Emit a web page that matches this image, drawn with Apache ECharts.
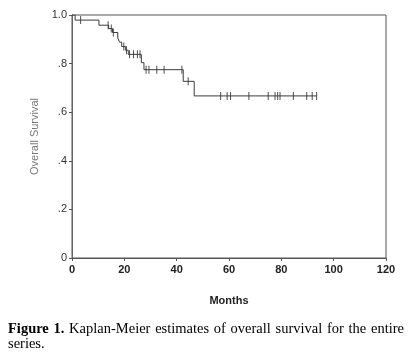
<!DOCTYPE html>
<html><head><meta charset="utf-8">
<script src="https://cdn.jsdelivr.net/npm/echarts@6/dist/echarts.min.js"></script>
<style>html,body{margin:0;padding:0;background:#fff}#c{width:409px;height:358px}</style>
</head><body><div id="c"></div>
<script>
// Kaplan-Meier step points: [months, survival]
const eventTimes = [0, 1.2, 10.3, 14.0, 15.5, 17.5, 18.2, 19.0, 20.5, 21.5, 26.5, 27.5, 42.5, 46.7, 93.5];
const survival   = [1.0, 0.979, 0.958, 0.944, 0.928, 0.905, 0.888, 0.870, 0.855, 0.838, 0.804, 0.775, 0.727, 0.667, 0.667];
// Censored observations
const censorTimes = [3.3, 13.8, 15.0, 15.8, 19.8, 20.8, 22.0, 23.5, 25.0, 26.0, 28.3, 29.4, 32.4, 35.2, 42.0, 44.4,
  56.8, 59.3, 60.6, 67.6, 75.0, 77.6, 78.6, 79.5, 84.6, 89.7, 91.8, 93.5];
const censorSurv  = [0.979, 0.958, 0.944, 0.928, 0.870, 0.855, 0.838, 0.838, 0.838, 0.838, 0.775, 0.775, 0.775, 0.775, 0.775, 0.727,
  0.667, 0.667, 0.667, 0.667, 0.667, 0.667, 0.667, 0.667, 0.667, 0.667, 0.667, 0.667];
const xTicks = [0, 20, 40, 60, 80, 100, 120];
const yLabels = {0: '0', 0.2: '.2', 0.4: '.4', 0.6: '.6', 0.8: '.8', 1: '1.0'};
const xName = 'Months';
const yName = 'Overall Survival';
const captionBold = ['Figure', '1.'];
const captionLine1 = ['Figure', '1.', 'Kaplan-Meier', 'estimates', 'of', 'overall', 'survival', 'for', 'the', 'entire'];
const captionLine2 = 'series.';

const chart = echarts.init(document.getElementById('c'), null, {renderer: 'canvas'});
const font = 'Liberation Sans, Arial, sans-serif';
const serifN = '14.5px Liberation Serif, Times New Roman, serif';
const serifB = 'bold 14.5px Liberation Serif, Times New Roman, serif';

// justified caption line 1
const ctx = document.createElement('canvas').getContext('2d');
const widths = captionLine1.map((w, i) => { ctx.font = i < captionBold.length ? serifB : serifN; return ctx.measureText(w).width; });
const lineLeft = 8, lineRight = 404;
const gap = (lineRight - lineLeft - widths.reduce((a, b) => a + b, 0)) / (captionLine1.length - 1);
const graphics = [];
let cx = lineLeft;
captionLine1.forEach((w, i) => {
  graphics.push({type: 'text', left: cx, top: 322, style: {text: w, font: i < captionBold.length ? serifB : serifN, fill: '#000'}});
  cx += widths[i] + gap;
});
graphics.push({type: 'text', left: lineLeft, top: 337, style: {text: captionLine2, font: serifN, fill: '#000'}});

chart.setOption({
  animation: false,
  backgroundColor: '#fff',
  grid: {left: 72, top: 15, right: 23, bottom: 100, show: true, borderColor: '#555', borderWidth: 1, backgroundColor: 'transparent'},
  xAxis: {
    type: 'value', min: xTicks[0], max: xTicks[xTicks.length - 1], interval: 20,
    name: xName, nameLocation: 'middle', nameGap: 37,
    nameTextStyle: {fontFamily: font, fontSize: 11, color: '#222', fontWeight: 'bold'},
    axisLine: {show: true, lineStyle: {color: '#555'}},
    axisTick: {show: true, length: 3, lineStyle: {color: '#555'}},
    axisLabel: {fontFamily: font, fontSize: 11, color: '#222', margin: 6, fontWeight: 'bold'},
    splitLine: {show: false}
  },
  yAxis: {
    type: 'value', min: 0, max: 1, interval: 0.2,
    name: yName, nameLocation: 'middle', nameGap: 30,
    nameTextStyle: {fontFamily: font, fontSize: 11, color: '#777'},
    axisLine: {show: true, lineStyle: {color: '#6a606a'}},
    axisTick: {show: true, length: 3, lineStyle: {color: '#555'}},
    axisLabel: {fontFamily: font, fontSize: 11, color: '#333', margin: 5,
      formatter: v => yLabels[Math.round(v * 10) / 10] ?? ''},
    splitLine: {show: false}
  },
  series: [
    {
      type: 'line', step: 'end', showSymbol: false, silent: true,
      data: eventTimes.map((t, i) => [t, survival[i]]),
      lineStyle: {color: '#3a3a3a', width: 1}
    },
    {
      type: 'scatter', symbol: 'rect', symbolSize: [1, 8], silent: true,
      data: censorTimes.map((t, i) => [t, censorSurv[i]]),
      itemStyle: {color: '#222'}
    }
  ],
  graphic: graphics
});
</script></body></html>
